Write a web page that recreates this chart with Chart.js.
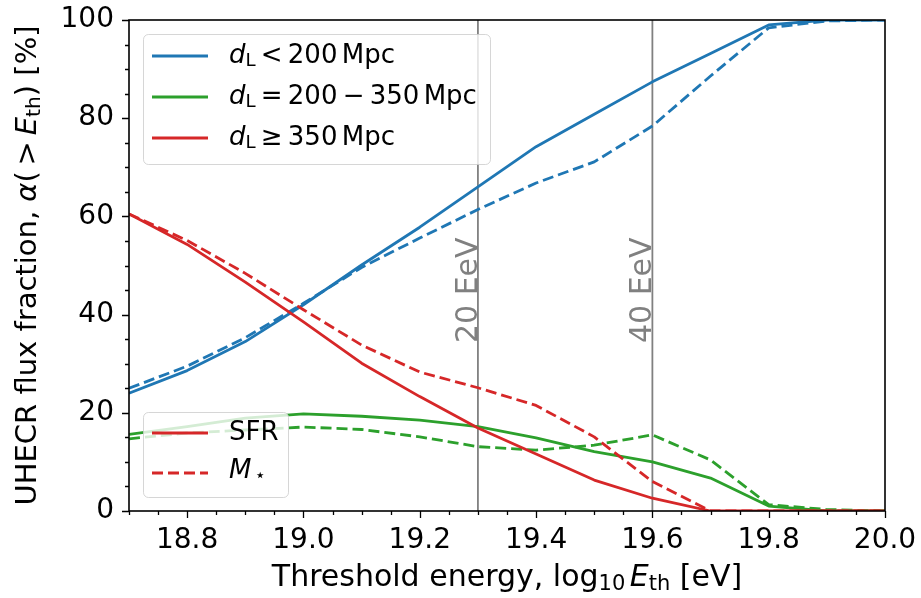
<!DOCTYPE html>
<html>
<head>
<title>UHECR flux fraction vs threshold energy</title>
<script src="https://cdn.jsdelivr.net/npm/chart.js"></script>
<style>
  body { margin: 0; background: #fff; }
  #fluxChart { display: block; }
</style>
</head>
<body>
<canvas id="fluxChart" width="921" height="598"></canvas>
<script>
// threshold energy, log10 E_th [eV]
const energy = [18.7, 18.8, 18.9, 19.0, 19.1, 19.2, 19.3, 19.4, 19.5, 19.6, 19.7, 19.8, 19.9, 20.0];

// flux fraction [%] per distance bin, SFR and stellar-mass weighting
const nearSFR   = [24.0, 28.6, 34.5, 42.0, 50.1, 57.8, 66.0, 74.2, 80.8, 87.4, 93.2, 99.0, 100, 100];
const nearMstar = [25.0, 29.5, 35.3, 42.3, 49.6, 55.6, 61.4, 66.8, 71.1, 78.4, 88.6, 98.4, 99.8, 100];
const midSFR    = [15.6, 17.2, 18.9, 19.8, 19.3, 18.5, 17.2, 14.9, 12.1, 10.0, 6.7, 1.0, 0, 0];
const midMstar  = [14.7, 15.9, 16.5, 17.1, 16.6, 15.1, 13.1, 12.4, 13.4, 15.5, 10.4, 1.3, 0.3, 0];
const farSFR    = [60.5, 54.3, 46.6, 38.5, 30.1, 23.3, 16.9, 11.6, 6.3, 2.6, 0, 0, 0, 0];
const farMstar  = [60.5, 55.1, 48.4, 41.0, 33.8, 28.3, 25.1, 21.5, 15.1, 6.0, 0, 0, 0, 0];

const xTicks = [18.8, 19.0, 19.2, 19.4, 19.6, 19.8, 20.0];
const yTicks = [0, 20, 40, 60, 80, 100];

// reference energies marked by vertical lines
const markerEnergy = [19.3, 19.6];
const markerLabels = ['20 EeV', '40 EeV'];

const BLUE = '#1f77b4', GREEN = '#2ca02c', RED = '#d62728';
const FONT = '"DejaVu Sans"';
const DASH = [11, 5];
const LW = 2.8;

function series(values) {
    return values.map((v, i) => ({ x: energy[i], y: v }));
}

function line(values, color, dashed, order) {
    return {
        data: series(values),
        borderColor: color,
        borderWidth: LW,
        borderDash: dashed ? DASH : [],
        borderJoinStyle: 'round',
        pointRadius: 0,
        tension: 0,
        fill: false,
        order: order
    };
}

// text pieces: [string, flags] where 'i' = italic, 's' = subscript;
// a bare number is a gap in em
function fontFor(flags, size) {
    const sz = flags.includes('s') ? size * 0.7 : size;
    return (flags.includes('i') ? 'italic ' : '') + sz + 'px ' + FONT;
}

function pieceWidth(ctx, p, size) {
    if (typeof p === 'number') return p * size;
    ctx.font = fontFor(p[1], size);
    return ctx.measureText(p[0]).width;
}

function drawRich(ctx, parts, x, y, size, align) {
    const widths = parts.map(p => pieceWidth(ctx, p, size));
    const total = widths.reduce((a, b) => a + b, 0);
    let cx = align === 'center' ? x - total / 2 : x;
    ctx.textAlign = 'left';
    parts.forEach((p, i) => {
        if (typeof p !== 'number') {
            ctx.font = fontFor(p[1], size);
            ctx.fillText(p[0], cx, y + (p[1].includes('s') ? size * 0.22 : 0));
        }
        cx += widths[i];
    });
}

function legendBox(ctx, x, y, w, h) {
    ctx.save();
    ctx.beginPath();
    ctx.roundRect(x, y, w, h, 5);
    ctx.fillStyle = 'rgba(255,255,255,0.8)';
    ctx.fill();
    ctx.strokeStyle = 'rgba(204,204,204,0.8)';
    ctx.lineWidth = 1;
    ctx.stroke();
    ctx.restore();
}

function legendLine(ctx, y, color, dashed) {
    ctx.save();
    ctx.strokeStyle = color;
    ctx.lineWidth = LW;
    ctx.setLineDash(dashed ? DASH : []);
    ctx.beginPath();
    ctx.moveTo(152, y);
    ctx.lineTo(208, y);
    ctx.stroke();
    ctx.restore();
}

const decorations = {
    id: 'decorations',
    beforeDatasetsDraw(chart) {
        const ctx = chart.ctx, x = chart.scales.x, y = chart.scales.y;
        const area = chart.chartArea;
        ctx.save();
        markerEnergy.forEach((e, i) => {
            const px = x.getPixelForValue(e);
            ctx.strokeStyle = '#808080';
            ctx.lineWidth = 1.8;
            ctx.beginPath();
            ctx.moveTo(px, area.top);
            ctx.lineTo(px, area.bottom);
            ctx.stroke();

            ctx.save();
            ctx.translate(px - 1, y.getPixelForValue(34.2));
            ctx.rotate(-Math.PI / 2);
            ctx.fillStyle = '#808080';
            ctx.font = '30px ' + FONT;
            ctx.textAlign = 'left';
            ctx.textBaseline = 'alphabetic';
            ctx.fillText(markerLabels[i], 0, 0);
            ctx.restore();
        });
        ctx.restore();
    },
    afterDraw(chart) {
        const ctx = chart.ctx, x = chart.scales.x, y = chart.scales.y;
        const area = chart.chartArea;
        ctx.save();

        // tick marks, outward, with minor ticks
        ctx.strokeStyle = '#000';
        ctx.lineWidth = 1.3;
        ctx.beginPath();
        for (let v = 0; v <= 100; v += 5) {
            const py = Math.round(y.getPixelForValue(v)) + 0.5;
            const len = v % 20 === 0 ? 7 : 4;
            ctx.moveTo(area.left, py);
            ctx.lineTo(area.left - len, py);
        }
        for (let k = 0; k <= 26; k++) {
            const v = 18.7 + k * 0.05;
            const px = Math.round(x.getPixelForValue(v)) + 0.5;
            const len = (k - 2) % 4 === 0 ? 7 : 4;
            ctx.moveTo(px, area.bottom);
            ctx.lineTo(px, area.bottom + len);
        }
        ctx.stroke();

        // frame
        ctx.lineWidth = 1.6;
        ctx.strokeRect(area.left, area.top, area.right - area.left, area.bottom - area.top);

        // distance legend
        ctx.fillStyle = '#000';
        ctx.textBaseline = 'middle';
        legendBox(ctx, 143.5, 34.5, 347, 130);
        const rel = 0.2;
        const rows = [
            [BLUE, [['d', 'i'], ['L', 's'], rel, ['<', ''], rel, ['200', ''], 0.17, ['Mpc', '']]],
            [GREEN, [['d', 'i'], ['L', 's'], rel, ['=', ''], rel, ['200', ''], rel, ['\u2212', ''], rel, ['350', ''], 0.17, ['Mpc', '']]],
            [RED, [['d', 'i'], ['L', 's'], rel, ['\u2265', ''], rel, ['350', ''], 0.17, ['Mpc', '']]]
        ];
        rows.forEach((r, i) => {
            const ry = 56 + i * 41;
            legendLine(ctx, ry, r[0], false);
            drawRich(ctx, r[1], 229, ry, 26, 'left');
        });

        // weighting legend
        legendBox(ctx, 143.5, 412.5, 145, 85);
        legendLine(ctx, 433, RED, false);
        drawRich(ctx, [['SFR', '']], 229, 433, 26, 'left');
        legendLine(ctx, 473, RED, true);
        drawRich(ctx, [['M', 'i'], 0.12, ['\u22c6', 's']], 229, 471, 26, 'left');

        // axis titles
        drawRich(ctx, [['Threshold energy, log', ''], ['10', 's'], 0.15, ['E', 'i'], ['th', 's'], [' [eV]', '']],
            (area.left + area.right) / 2, 578, 30, 'center');
        ctx.save();
        ctx.translate(28, (area.top + area.bottom) / 2);
        ctx.rotate(-Math.PI / 2);
        drawRich(ctx, [['UHECR flux fraction, ', ''], ['\u03b1', 'i'], ['(', ''], 0.2, ['>', ''], 0.2, ['E', 'i'], ['th', 's'], [') [%]', '']],
            0, 0, 29, 'center');
        ctx.restore();

        ctx.restore();
    }
};

new Chart(document.getElementById('fluxChart'), {
    type: 'line',
    data: {
        datasets: [
            line(nearSFR, BLUE, false, 6),
            line(nearMstar, BLUE, true, 5),
            line(midSFR, GREEN, false, 4),
            line(midMstar, GREEN, true, 3),
            line(farSFR, RED, false, 2),
            line(farMstar, RED, true, 1)
        ]
    },
    options: {
        responsive: false,
        animation: false,
        layout: { padding: { top: 20, right: 36, left: 0, bottom: 0 } },
        plugins: { legend: { display: false }, tooltip: { enabled: false } },
        scales: {
            x: {
                type: 'linear',
                min: 18.7,
                max: 20.0,
                grid: { display: false, drawTicks: false },
                border: { display: false },
                afterBuildTicks(scale) { scale.ticks = xTicks.map(v => ({ value: v })); },
                afterFit(scale) {
                    scale.height = 87;
                    scale.paddingLeft = 0;
                    scale.paddingRight = 0;
                },
                ticks: {
                    color: '#000',
                    padding: 13,
                    maxRotation: 0,
                    font: { family: 'DejaVu Sans', size: 28 },
                    callback: v => v.toFixed(1)
                }
            },
            y: {
                min: 0,
                max: 100,
                grid: { display: false, drawTicks: false },
                border: { display: false },
                afterBuildTicks(scale) { scale.ticks = yTicks.map(v => ({ value: v })); },
                afterFit(scale) {
                    scale.width = 129;
                    scale.paddingTop = 0;
                    scale.paddingBottom = 0;
                },
                ticks: {
                    color: '#000',
                    padding: 15,
                    font: { family: 'DejaVu Sans', size: 28 }
                }
            }
        }
    },
    plugins: [decorations]
});
</script>
</body>
</html>
